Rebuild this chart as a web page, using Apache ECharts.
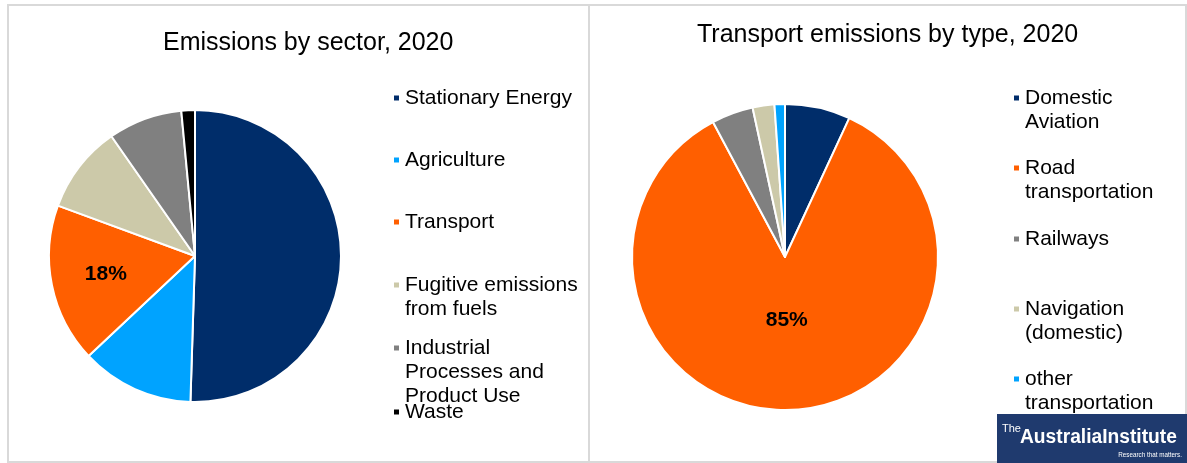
<!DOCTYPE html>
<html>
<head>
<meta charset="utf-8">
<script src="https://cdn.jsdelivr.net/npm/echarts@6/dist/echarts.min.js"></script>
<style>
  html, body { margin: 0; padding: 0; background: #fff; }
  #chart { width: 1187px; height: 463px; }
</style>
</head>
<body>
<div id="chart"></div>
<script>
// Emissions by sector, 2020 (share, %)
const sectorNames = ['Stationary Energy', 'Agriculture', 'Transport', 'Fugitive emissions from fuels', 'Industrial Processes and Product Use', 'Waste']
const sectorLegendText = ['Stationary Energy', 'Agriculture', 'Transport', 'Fugitive emissions\nfrom fuels', 'Industrial\nProcesses and\nProduct Use', 'Waste']
const sectorValues = [50.5, 12.5, 17.6, 9.7, 8.2, 1.5]
const sectorColors = ['#002d6a', '#00a3ff', '#ff5f00', '#ccc9a9', '#808080', '#000000']
const sectorLabelled = 'Transport'

// Transport emissions by type, 2020 (share, %)
const transportNames = ['Domestic Aviation', 'Road transportation', 'Railways', 'Navigation (domestic)', 'other transportation']
const transportLegendText = ['Domestic\nAviation', 'Road\ntransportation', 'Railways', 'Navigation\n(domestic)', 'other\ntransportation']
const transportValues = [6.9, 85.3, 4.4, 2.3, 1.1]
const transportColors = ['#002d6a', '#ff5f00', '#808080', '#ccc9a9', '#00a3ff']
const transportLabelled = 'Road transportation'

const FONT = '"Liberation Sans", Arial, sans-serif'

// 图例：每一项单独放；前面补空行，让第一行和方块对齐
const makeLegends = (names, texts, firstLineY, x) => names.map((name, i) => {
  const lines = texts[i].split('\n').length
  const pad = '\n'.repeat(lines - 1)
  return {
    data: [name],
    left: x,
    top: firstLineY[i] - 10 - 24 * (lines - 1),
    padding: 0,
    icon: 'rect',
    itemWidth: 7,
    itemHeight: 7,
    selectedMode: false,
    formatter: () => pad + texts[i],
    textStyle: {
      fontFamily: FONT,
      fontSize: 21,
      color: '#000',
      lineHeight: 24
    }
  }
})

// 把扇区内标签沿半径方向推到指定距离
const radialShift = (cx, cy, dist) => (params) => {
  const r = params.labelRect
  const vx = r.x + r.width / 2 - cx
  const vy = r.y + r.height / 2 - cy
  const len = Math.hypot(vx, vy) || 1
  return { dx: vx / len * dist - vx, dy: vy / len * dist - vy }
}

const pieSeries = (names, values, colors, labelled, center, radius, labelDist) => ({
  type: 'pie',
  center: center,
  radius: radius,
  startAngle: 90,
  clockwise: true,
  animation: false,
  emphasis: { disabled: true },
  itemStyle: { borderColor: '#fff', borderWidth: 2 },
  label: {
    position: 'inside',
    formatter: (p) => Math.round(p.percent) + '%',
    fontFamily: FONT,
    fontSize: 21,
    fontWeight: 'bold',
    color: '#000'
  },
  labelLine: { show: false },
  labelLayout: radialShift(center[0], center[1], labelDist),
  data: names.map((n, i) => ({
    name: n,
    value: values[i],
    itemStyle: { color: colors[i] },
    label: { show: n === labelled }
  }))
})

const chart = echarts.init(document.getElementById('chart'))

chart.setOption({
  backgroundColor: '#fff',
  animation: false,
  title: [
    {
      text: 'Emissions by sector, 2020',
      left: 163,
      top: 31,
      padding: 0,
      textStyle: { fontFamily: FONT, fontSize: 25, fontWeight: 'normal', color: '#000' }
    },
    {
      text: 'Transport emissions by type, 2020',
      left: 697,
      top: 23,
      padding: 0,
      textStyle: { fontFamily: FONT, fontSize: 25, fontWeight: 'normal', color: '#000' }
    }
  ],
  legend: [
    ...makeLegends(sectorNames, sectorLegendText, [96, 158, 220, 283, 346, 410], 392),
    ...makeLegends(transportNames, transportLegendText, [96, 166, 237, 307, 377], 1012)
  ],
  series: [
    pieSeries(sectorNames, sectorValues, sectorColors, sectorLabelled, [195, 256], 146, 91),
    pieSeries(transportNames, transportValues, transportColors, transportLabelled, [785, 257], 153, 63)
  ],
  graphic: [
    {
      type: 'rect', silent: true, z: -1,
      shape: { x: 8, y: 5, width: 581, height: 457 },
      style: { fill: 'none', stroke: '#d9d9d9', lineWidth: 2 }
    },
    {
      type: 'rect', silent: true, z: -1,
      shape: { x: 589, y: 5, width: 597, height: 457 },
      style: { fill: 'none', stroke: '#d9d9d9', lineWidth: 2 }
    },
    // 机构标志
    {
      type: 'rect', silent: true, z: 10,
      shape: { x: 997, y: 414, width: 190, height: 49 },
      style: { fill: '#1f3a6e' }
    },
    {
      type: 'text', silent: true, z: 11, x: 1002, y: 429,
      style: { text: 'The', fill: '#fff', font: '11px "Liberation Sans"', verticalAlign: 'middle' }
    },
    {
      type: 'text', silent: true, z: 11, x: 1020, y: 437, scaleX: 0.96,
      style: { text: 'AustraliaInstitute', fill: '#fff', font: 'bold 20px "Liberation Sans"', verticalAlign: 'middle' }
    },
    {
      type: 'text', silent: true, z: 11, x: 1182, y: 455, scaleX: 0.9,
      style: { text: 'Research that matters.', fill: '#fff', font: '7px "Liberation Sans"', align: 'right', verticalAlign: 'middle' }
    }
  ]
})
</script>
</body>
</html>
